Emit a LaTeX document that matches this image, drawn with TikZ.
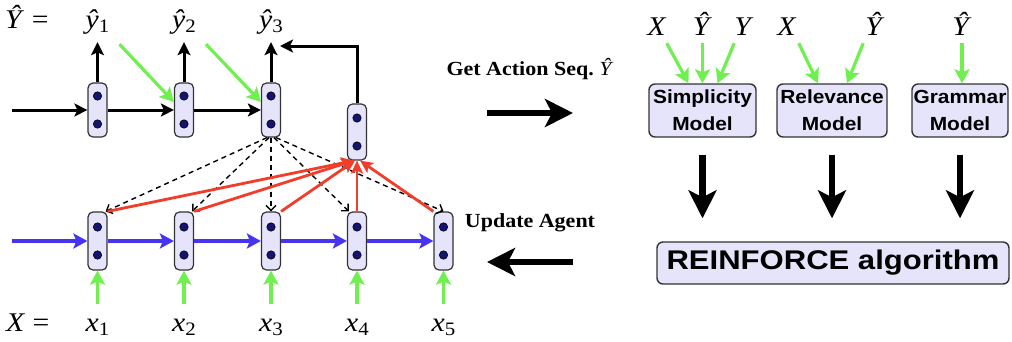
\documentclass[tikz,border=0pt]{standalone}
\usepackage{fontspec}
\setmainfont{Liberation Serif}
\setsansfont{Liberation Sans}
\usepackage{graphicx}
\usetikzlibrary{arrows.meta,calc}
\definecolor{lav}{RGB}{230,228,250}
\definecolor{navy}{RGB}{22,20,115}
\definecolor{grnc}{RGB}{112,240,80}
\definecolor{redc}{RGB}{240,62,42}
\definecolor{bluc}{RGB}{72,52,240}
\newcommand{\hs}[1]{\scalebox{1.1}[1]{#1}}
\newcommand{\lab}[2]{\hs{\textit{#1}\raisebox{-0.18em}{\fontsize{19}{19}\selectfont #2}}}
\begin{document}
\begin{tikzpicture}[x=1pt,y=-1pt,
  cell/.style={draw=black!80, fill=lav, line width=1.2pt, rounded corners=5pt, minimum width=19pt, inner sep=0pt},
  dotc/.style={fill=navy, draw=black, line width=0.6pt},
  lbl/.style={font=\fontsize{27}{27}\selectfont, inner sep=2pt, text height=19pt, text depth=6pt, anchor=base},
  eqlbl/.style={font=\fontsize{27}{27}\selectfont, inner sep=0pt, anchor=base west},
  blk/.style={draw=black, line width=3pt, -{Stealth[length=13pt,width=13pt,inset=3pt]}},
  gr/.style={draw=grnc, line width=3.2pt, -{Stealth[length=14pt,width=15pt,inset=3pt]}},
  bl/.style={draw=bluc, line width=3.2pt, -{Stealth[length=14pt,width=15pt,inset=3pt]}},
  rd/.style={draw=redc, line width=2.8pt, -{Stealth[length=13pt,width=12pt,inset=3pt]}},
  dsh/.style={draw=black, line width=1.4pt, dash pattern=on 5pt off 4pt, -{Straight Barb[length=5pt,width=10pt]}},
  big/.style={draw=black, line width=6.5pt, -{Stealth[length=28pt,width=28pt,inset=7pt]}},
  model/.style={draw=black!80, fill=lav, line width=1.4pt, rounded corners=6pt, inner sep=0pt, align=center, font=\sffamily\bfseries\fontsize{19}{27}\selectfont},
  capt/.style={font=\bfseries\fontsize{20}{20}\selectfont, inner sep=0pt, anchor=base}
]
\useasboundingbox (0,0) rectangle (1012,341);

% ---- cells ----
\node[cell, minimum height=54pt] (t1) at (97.5,110) {};
\node[cell, minimum height=54pt] (t2) at (184,110) {};
\node[cell, minimum height=54pt] (t3) at (271,110) {};
\node[cell, minimum height=56pt] (a) at (357,132) {};
\node[cell, minimum height=58pt] (b1) at (97.5,241) {};
\node[cell, minimum height=58pt] (b2) at (184,241) {};
\node[cell, minimum height=58pt] (b3) at (271,241) {};
\node[cell, minimum height=58pt] (b4) at (357,241) {};
\node[cell, minimum height=58pt] (b5) at (443.5,241) {};
\foreach \n in {t1,t2,t3,a,b1,b2,b3,b4,b5}{
  \filldraw[dotc] ([yshift=14pt]\n.center) circle (4.2pt);
  \filldraw[dotc] ([yshift=-14pt]\n.center) circle (4.2pt);
}

% ---- labels ----
\node[eqlbl] (Yeq) at (5,28) {\hs{\textit{Ŷ}\ =}};
\node[lbl] (y1) at (97.5,28) {\lab{ŷ}{1}};
\node[lbl] (y2) at (184,28) {\lab{ŷ}{2}};
\node[lbl] (y3) at (271,28) {\lab{ŷ}{3}};
\node[eqlbl] (Xeq) at (6,331) {\hs{\textit{X}\ =}};
\node[lbl] (x1) at (97.5,331) {\lab{x}{1}};
\node[lbl] (x2) at (184,331) {\lab{x}{2}};
\node[lbl] (x3) at (271,331) {\lab{x}{3}};
\node[lbl] (x4) at (357,331) {\lab{x}{4}};
\node[lbl] (x5) at (443.5,331) {\lab{x}{5}};

% ---- decoder ----
\coordinate (tin) at (12,110);
\draw[blk] (tin) -- (t1.west);
\draw[blk] (t1.east) -- (t2.west);
\draw[blk] (t2.east) -- (t3.west);
\draw[blk, shorten >=6pt] (t1.north) -- (y1.south);
\draw[blk, shorten >=6pt] (t2.north) -- (y2.south);
\draw[blk, shorten >=6pt] (t3.north) -- (y3.south);
\draw[gr] ([shift={(8pt,-8pt)}]y1.south east) -- ([yshift=8pt]t2.west);
\draw[gr] ([shift={(8pt,-8pt)}]y2.south east) -- ([yshift=8pt]t3.west);
\coordinate (y3tip) at (280,46);
\draw[blk] (a.north) |- (y3tip);

% ---- dashed attention ----
\draw[dsh] ([xshift=-4pt]t3.south) -- ([xshift=-2pt]b1.north east);
\draw[dsh] ([xshift=-2pt]t3.south) -- ([xshift=-2pt]b2.north east);
\draw[dsh] (t3.south) -- (b3.north);
\draw[dsh] ([xshift=3pt]t3.south) -- ([xshift=2pt]b4.north west);
\draw[dsh] ([xshift=5pt]t3.south) -- (b5.north);

% ---- red ----
\draw[rd] (b1.north east) -- ([xshift=-3pt]a.south);
\draw[rd] (b2.north east) -- ([xshift=-3pt]a.south);
\draw[rd] (b3.north east) -- ([xshift=-2pt]a.south);
\draw[rd] (b4.north) -- (a.south);
\draw[rd] (b5.north west) -- ([xshift=3pt]a.south);

% ---- encoder ----
\coordinate (bin) at (12,241);
\draw[bl] (bin) -- (b1.west);
\draw[bl] (b1.east) -- (b2.west);
\draw[bl] (b2.east) -- (b3.west);
\draw[bl] (b3.east) -- (b4.west);
\draw[bl] (b4.east) -- (b5.west);
\foreach \i in {1,...,5}{
  \draw[gr] ([yshift=6pt]x\i.north) -- (b\i.south);
}

% ---- middle ----
\node[capt] (getact) at (530,75) {\hs{Get Action Seq.\ \textnormal{\textit{Ŷ}}}};
\coordinate (ga1) at (487,113);
\coordinate (ga2) at (573,113);
\draw[big] (ga1) -- (ga2);
\node[capt] (upd) at (530,227) {\hs{Update Agent}};
\coordinate (ua1) at (573,262);
\coordinate (ua2) at (487,262);
\draw[big] (ua1) -- (ua2);

% ---- models ----
\node[model, minimum width=107pt, minimum height=53pt] (sm) at (702.5,110.5) {\hs{Simplicity}\\\hs{Model}};
\node[model, minimum width=110pt, minimum height=53pt] (rel) at (832,110.5) {\hs{Relevance}\\\hs{Model}};
\node[model, minimum width=96pt, minimum height=53pt] (gram) at (960,110.5) {\hs{Grammar}\\\hs{Model}};

\node[lbl] (sx) at (657,35) {\hs{\textit{X}}};
\node[lbl] (sy) at (702.5,35) {\hs{\textit{Ŷ}}};
\node[lbl] (sY) at (744,35) {\hs{\textit{Y}}};
\node[lbl] (rx) at (787,35) {\hs{\textit{X}}};
\node[lbl] (ry) at (875,35) {\hs{\textit{Ŷ}}};
\node[lbl] (gy) at (962,35) {\hs{\textit{Ŷ}}};

\draw[gr] ([xshift=-2pt]sx.south east) -- ([xshift=-14pt]sm.north);
\draw[gr] (sy.south) -- (sm.north);
\draw[gr] ([xshift=2pt]sY.south west) -- ([xshift=15pt]sm.north);
\draw[gr] (rx.south east) -- ([xshift=-14pt]rel.north);
\draw[gr] (ry.south west) -- ([xshift=15pt]rel.north);
\draw[gr] (gy.south) -- (gy.south |- gram.north);

\node[model, font=\sffamily\bfseries\fontsize{27}{27}\selectfont, minimum width=352pt, minimum height=42pt] (rf) at (833,263) {\scalebox{1.15}[1]{REINFORCE algorithm}};

\draw[big, shorten <=17pt, shorten >=23pt] (sm.south) -- (sm.south |- rf.north);
\draw[big, shorten <=17pt, shorten >=23pt] (rel.south) -- (rel.south |- rf.north);
\draw[big, shorten <=17pt, shorten >=23pt] (gram.south) -- (gram.south |- rf.north);
\end{tikzpicture}
\end{document}
